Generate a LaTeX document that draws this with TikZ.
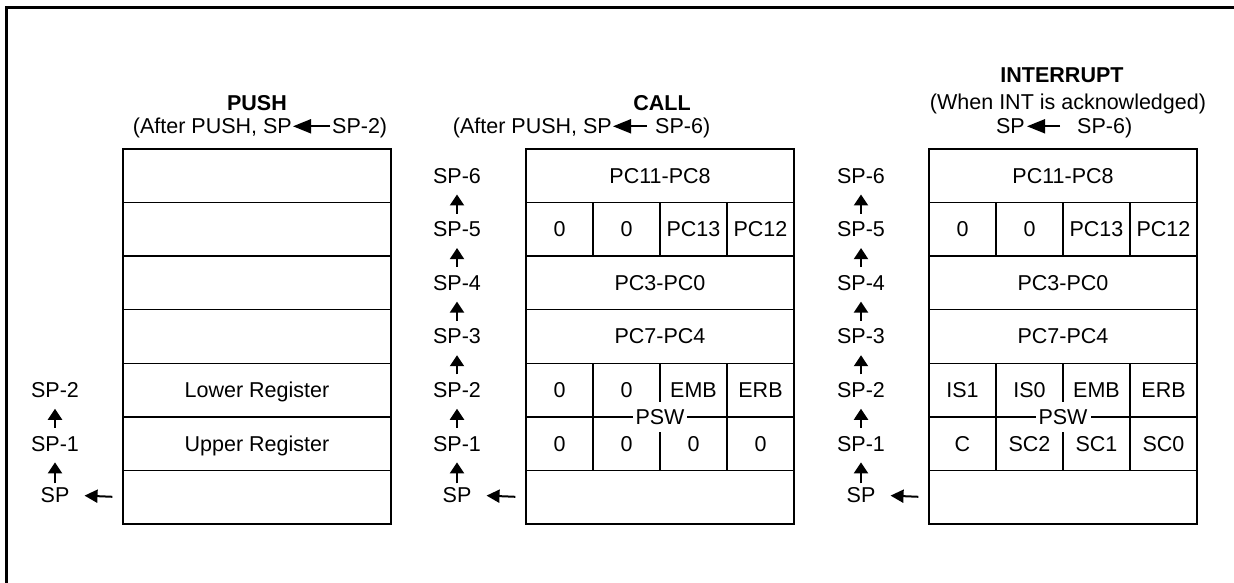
\documentclass[tikz,border=0pt]{standalone}
\usepackage{fontspec}
\setmainfont{Liberation Sans}
\usetikzlibrary{positioning,arrows.meta}

\newcommand{\stkfont}{\fontsize{21.5}{24}\selectfont}
\newcommand{\rowh}{53.57}

\tikzset{
  every node/.style={font=\stkfont},
  frame/.style={line width=2.3pt},
  row/.style={draw, line width=1.3pt, minimum width=268pt, minimum height=\rowh pt,
    inner sep=0pt, text height=15pt, text depth=0pt},
  cell/.style={draw, line width=1.3pt, minimum width=67pt, minimum height=\rowh pt,
    inner sep=0pt, text height=15pt, text depth=0pt},
  txt/.style={inner sep=0pt, text height=15pt, text depth=0pt},
  title/.style={txt, font=\stkfont\bfseries},
  psw/.style={txt, fill=white, inner xsep=3pt, inner ysep=7.5pt},
  uparrow/.style={line width=2pt, -{Triangle[length=11pt,width=14pt]},
    shorten <=8pt, shorten >=11pt},
  sparrow/.style={line width=2pt, -{Triangle[length=13pt,width=13pt]},
    shorten <=10pt, shorten >=15pt},
  headarrow/.style={line width=1.9pt, -{Triangle[length=18pt,width=14pt]}},
}

\begin{document}
\begin{tikzpicture}[x=1pt,y=-1pt]
  \useasboundingbox (0,0) rectangle (1234,583);

  % outer frame (top and left edges only)
  \draw[frame] (6.5,600) -- (6.5,7.5) -- (1250,7.5);

  %% PUSH
  \node[title, anchor=south] (pushtitle) at (257,111) {PUSH};
  \node[txt, anchor=south east] (pushsubl) at (292,134) {(After PUSH, SP};
  \node[txt, anchor=south west] (pushsubr) at (332,134) {SP-2)};
  \draw[headarrow, shorten <=2pt, shorten >=1pt] (pushsubr.west) -- (pushsubl.east);

  \foreach \i/\t in {1/{},2/{},3/{},4/{},5/Lower Register,6/Upper Register,7/{}}
    \node[row] (push\i) at (257,{149+(\i-0.5)*\rowh}) {\t};

  \node[txt] (pushsp5) at (55,{149+4.5*\rowh}) {SP-2};
  \node[txt] (pushsp6) at (55,{149+5.5*\rowh}) {SP-1};
  \node[txt] (pushsp7) at (55,495) {SP};
  \draw[uparrow] (pushsp6.north) -- (pushsp5.south);
  \draw[uparrow, shorten <=4pt] (pushsp7.north) -- (pushsp6.south);
  \draw[sparrow] (push7.west) -- (pushsp7.east);

  %% CALL
  \node[title, anchor=south] (calltitle) at (662,111) {CALL};
  \node[txt, anchor=south east] (callsubl) at (612,134) {(After PUSH, SP};
  \node[txt, anchor=south west] (callsubr) at (655,134) {SP-6)};
  \draw[headarrow, shorten <=8pt, shorten >=1pt] (callsubr.west) -- (callsubl.east);

  \foreach \i/\t in {1/PC11-PC8,3/PC3-PC0,4/PC7-PC4,7/{}}
    \node[row] (call\i) at (660,{149+(\i-0.5)*\rowh}) {\t};
  \foreach \i/\a/\b/\c/\d in {2/0/0/PC13/PC12,5/0/0/EMB/ERB,6/0/0/0/0}
    \foreach \t [count=\j] in {\a,\b,\c,\d}
      \node[cell] (call\i-\j) at ({526+(\j-0.5)*67},{149+(\i-0.5)*\rowh}) {\t};
  \node[psw] (callpsw) at (660,{149+5*\rowh}) {PSW};

  \foreach \i/\t in {1/SP-6,2/SP-5,3/SP-4,4/SP-3,5/SP-2,6/SP-1}
    \node[txt] (callsp\i) at (457,{149+(\i-0.5)*\rowh}) {\t};
  \node[txt] (callsp7) at (457,495) {SP};
  \foreach \i [remember=\i as \j (initially 1)] in {2,...,6}
    \draw[uparrow] (callsp\i.north) -- (callsp\j.south);
  \draw[uparrow, shorten <=4pt] (callsp7.north) -- (callsp6.south);
  \draw[sparrow] (call7.west) -- (callsp7.east);

  %% INTERRUPT
  \node[title, anchor=south] (inttitle) at (1062,83) {INTERRUPT};
  \node[txt, anchor=south] (intsub) at (1068,110) {(When INT is acknowledged)};
  \node[txt, anchor=south east] (intsubl) at (1025,134) {SP};
  \node[txt, anchor=south west] (intsubr) at (1077,134) {SP-6)};
  \draw[headarrow, shorten <=17pt, shorten >=2pt] (intsubr.west) -- (intsubl.east);

  \foreach \i/\t in {1/PC11-PC8,3/PC3-PC0,4/PC7-PC4,7/{}}
    \node[row] (int\i) at (1063,{149+(\i-0.5)*\rowh}) {\t};
  \foreach \i/\a/\b/\c/\d in {2/0/0/PC13/PC12,5/IS1/IS0/EMB/ERB,6/C/SC2/SC1/SC0}
    \foreach \t [count=\j] in {\a,\b,\c,\d}
      \node[cell] (int\i-\j) at ({929+(\j-0.5)*67},{149+(\i-0.5)*\rowh}) {\t};
  \node[psw] (intpsw) at (1063,{149+5*\rowh}) {PSW};

  \foreach \i/\t in {1/SP-6,2/SP-5,3/SP-4,4/SP-3,5/SP-2,6/SP-1}
    \node[txt] (intsp\i) at (861,{149+(\i-0.5)*\rowh}) {\t};
  \node[txt] (intsp7) at (861,495) {SP};
  \foreach \i [remember=\i as \j (initially 1)] in {2,...,6}
    \draw[uparrow] (intsp\i.north) -- (intsp\j.south);
  \draw[uparrow, shorten <=4pt] (intsp7.north) -- (intsp6.south);
  \draw[sparrow] (int7.west) -- (intsp7.east);
\end{tikzpicture}
\end{document}
